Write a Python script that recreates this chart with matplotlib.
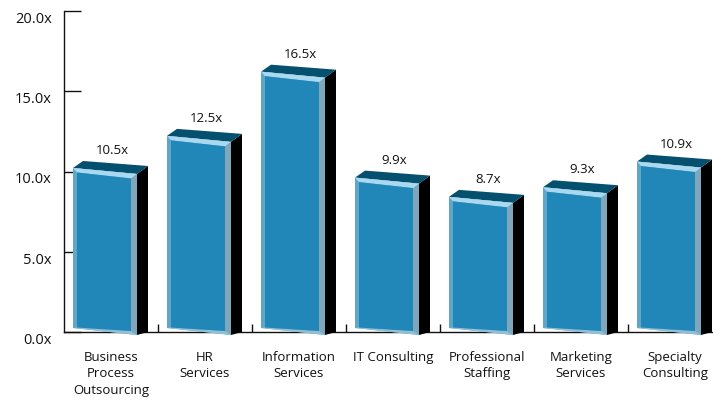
#!/usr/bin/env python3
"""Valuation multiples by segment, drawn as faux 3D bars."""

import matplotlib
matplotlib.use('Agg')
import matplotlib.pyplot as plt
from matplotlib.patches import Polygon

plt.rcParams['font.family'] = ['Open Sans', 'DejaVu Sans']

categories = ['Business\nProcess\nOutsourcing', 'HR\nServices', 'Information\nServices',
              'IT Consulting', 'Professional\nStaffing', 'Marketing\nServices',
              'Specialty\nConsulting']
multiples = [10.5, 12.5, 16.5, 9.9, 8.7, 9.3, 10.9]
y_ticks = [0, 5, 10, 15, 20]

W, H = 713, 402
LEFT, RIGHT, TOP, BOTTOM = 64, 713, 12, 333
PX_X = 94.0                      # pixels per category
PX_Y = (BOTTOM - TOP) / 20.0     # pixels per 1.0x

fig = plt.figure(figsize=(W / 100, H / 100), dpi=100)
ax = fig.add_axes([LEFT / W, 1 - BOTTOM / H, (RIGHT - LEFT) / W, (BOTTOM - TOP) / H])
ax.set_xlim(-0.5, -0.5 + (RIGHT - LEFT) / PX_X)
ax.set_ylim(0, 20)


def draw_bar(i, val):
    # offsets below are pixels from the category slot start / value level
    x0 = i - 0.5

    def pt(dx, base, dy):
        return (x0 + dx / PX_X, base - dy / PX_Y)

    def poly(points, color, z=3):
        ax.add_patch(Polygon(points, closed=True, facecolor=color, edgecolor='none',
                             clip_on=False, zorder=z))

    fl, fr, bl, br = 9, 73, 19, 84
    # black side
    poly([pt(fr, val, 10.5), pt(br, val, 2.5), pt(br, 0, 0), pt(fr, 0, 3)], '#000000')
    # dark top
    poly([pt(fl, val, 4.5), pt(bl, val, -2.5), pt(br, val, 2.5), pt(fr, val, 10.5)], '#06506f')
    # front face outer band
    poly([pt(fl, val, 4.5), pt(fr, val, 10.5), pt(fr, 0, 3), pt(fl, 0, -4)], '#5fa6c9', 4)
    # right bevel
    poly([pt(fr - 6, val, 14), pt(fr, val, 10.5), pt(fr, 0, 3), pt(fr - 6, 0, -1)], '#7fa6bb', 5)
    # top bevel
    poly([pt(fl, val, 4.5), pt(fr, val, 10.5), pt(fr - 6, val, 15), pt(fl + 4, val, 9)], '#a9d8f0', 5)
    # bottom bevel
    poly([pt(fl, 0, -4), pt(fr, 0, 3), pt(fr - 6, 0, -1), pt(fl + 4, 0, -4.5)], '#8fc0d8', 5)
    # main face
    poly([pt(fl + 4, val, 9), pt(fr - 6, val, 15), pt(fr - 6, 0, -1), pt(fl + 4, 0, -4.5)], '#2187b8', 6)
    ax.text(x0 + (fl + br + 3) / 2 / PX_X, val + 14 / PX_Y, f'{val:.1f}x', ha='center', va='center',
            fontsize=9.5, color='#111111', zorder=7)


for i, val in enumerate(multiples):
    draw_bar(i, val)

for side in ('top', 'right'):
    ax.spines[side].set_visible(False)
for side in ('left', 'bottom'):
    ax.spines[side].set_linewidth(1.0)
    ax.spines[side].set_color('#111111')
    ax.spines[side].set_zorder(2)

ax.set_yticks(y_ticks)
ax.set_yticklabels([f'{v:.1f}x' for v in y_ticks])
ax.tick_params(axis='y', direction='in', length=12, width=1.0, color='#111111',
               labelsize=10.5, pad=9, labelcolor='#111111')
for lab in ax.get_yticklabels():
    lab.set_verticalalignment('top')

centers = [i - 0.5 + 47 / PX_X for i in range(len(categories))]
ax.set_xticks(centers)
ax.set_xticklabels(categories, fontsize=9.5, linespacing=1.33, color='#111111')
ax.set_xticks([i + 0.5 for i in range(len(categories) - 1)], minor=True)
ax.tick_params(axis='x', which='major', length=0, pad=13)
ax.tick_params(axis='x', which='minor', direction='in', length=5.8, width=1.0, color='#111111')

fig.savefig('out.png', dpi=100)
plt.close(fig)
